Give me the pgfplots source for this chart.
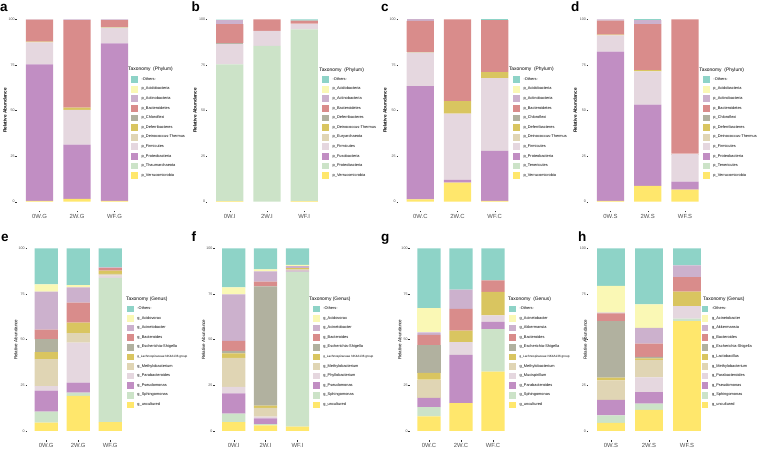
\documentclass[border=0pt]{standalone}
\usepackage{pgfplots}
\usepackage{pgfplotstable}
\pgfplotsset{compat=1.18}
\usepackage{fontspec}
\setmainfont{Liberation Sans}

% palette, one colour per legend position
\definecolor{col1}{HTML}{8ED3C7}
\definecolor{col2}{HTML}{FAF8B5}
\definecolor{col3}{HTML}{CCB1CD}
\definecolor{col4}{HTML}{D98C8B}
\definecolor{col5}{HTML}{B1B19F}
\definecolor{col6}{HTML}{D9C560}
\definecolor{col7}{HTML}{E0D5B4}
\definecolor{col8}{HTML}{E5D7DF}
\definecolor{col9}{HTML}{C18EC3}
\definecolor{col10}{HTML}{CCE3C8}
\definecolor{col11}{HTML}{FFE76C}
\definecolor{textgray}{HTML}{4D4D4D}
\definecolor{tickgray}{HTML}{333333}

% c1 = -Others- (top of stack) ... c11 = last legend entry (bottom)
\pgfplotstableread{
x c1 c2 c3 c4 c5 c6 c7 c8 c9 c10 c11
1 0 0 0.2 12.0 0 0.4 0 12.1 74.9 0 0.4
2 0 0 0.4 48.0 0 1.3 0 19.0 29.7 0 1.6
3 0 0 0.4 4.0 0 0 0.4 8.4 86.4 0 0.4
}\tabA
\pgfplotstableread{
x c1 c2 c3 c4 c5 c6 c7 c8 c9 c10 c11
1 0.2 0 2.4 10.5 0.4 0 0 11.2 0 75.0 0.3
2 0 0 0 6.4 0 0 0 8.2 0 85.4 0
3 0.7 0 0 1.6 0 0.4 0 2.8 0 94.2 0.3
}\tabB
\pgfplotstableread{
x c1 c2 c3 c4 c5 c6 c7 c8 c9 c10 c11
1 0 0 0.9 17.0 0 0 0.4 18.3 62.1 0 1.3
2 0 0 0 44.8 0 6.9 0 36.4 1.5 0 10.4
3 0.4 0 0 28.5 0 3.3 0 40.0 27.4 0 0.4
}\tabC
\pgfplotstableread{
x c1 c2 c3 c4 c5 c6 c7 c8 c9 c10 c11
1 0 0 0.7 7.7 0 0.4 0 8.9 81.9 0 0.4
2 0.4 0 2.2 25.2 0 0.7 0 18.3 44.6 0 8.6
3 0 0 0 73.6 0 0 0.3 15.1 4.4 0 6.6
}\tabD
\pgfplotstableread{
x c1 c2 c3 c4 c5 c6 c7 c8 c9 c10 c11
1 19.7 4.0 20.8 5.3 7.0 3.8 14.8 2.5 11.5 6.0 4.6
2 20.1 1.3 8.3 11.0 0 5.7 5.2 21.9 5.5 1.8 19.2
3 10.4 0 0.3 1.5 0 1.8 0.9 1.3 0 78.9 4.9
}\tabE
\pgfplotstableread{
x c1 c2 c3 c4 c5 c6 c7 c8 c9 c10 c11
1 21.4 3.8 25.5 5.5 1.3 2.5 15.9 3.5 11.1 4.6 4.9
2 11.5 1.1 5.6 2.6 65.3 1.3 4.8 0.9 3.1 0.7 3.1
3 9.1 0.7 1.0 0 0 0.6 0.8 0 0.6 84.8 2.4
}\tabF
\pgfplotstableread{
x c1 c2 c3 c4 c5 c6 c7 c8 c9 c10 c11
1 32.7 13.3 1.4 5.5 15.3 3.7 10.0 0 5.1 5.0 8.0
2 22.6 0 10.6 11.9 0 6.2 0 7.1 26.3 0 15.3
3 17.5 0 0 6.4 0 12.8 0 3.6 4.0 23.2 32.5
}\tabG
\pgfplotstableread{
x c1 c2 c3 c4 c5 c6 c7 c8 c9 c10 c11
1 20.6 14.6 0.4 4.2 31.0 1.5 10.7 0 8.4 4.2 4.4
2 30.7 12.9 8.6 7.3 0.7 0.9 9.5 8.2 6.2 3.5 11.5
3 9.3 0 6.4 8.0 0 7.9 0 6.9 0 1.3 60.2
}\tabH

\newcommand{\lachno}{{\fontsize{3.1}{3.5}\selectfont g\_Lachnospiraceae NK4A136 group}}

\pgfplotsset{
  panel/.style={
    scale only axis, ybar stacked, bar width=0.73,
    xmin=0.4, xmax=3.6, ymin=-5, ymax=105,
    xtick={1,2,3}, ytick={0,25,50,75,100},
    axis lines*=left, axis line style={draw=none},
    tick align=outside, major tick length=1.5pt,
    tick style={color=tickgray, line width=0.35pt},
    /pgf/number format/assume math mode=true,
    yticklabel style={font=\fontsize{3.6}{4}\selectfont, text=textgray, inner sep=0.6pt},
    xticklabel style={font=\fontsize{5.9}{6.5}\selectfont, text=textgray, inner sep=2pt},
    ylabel={Relative Abundance},
    legend style={draw=none, fill=none, inner sep=0pt, anchor=north west,
      font=\fontsize{3.9}{4.5}\selectfont, row sep=2.9pt, column sep=3.7pt,
      nodes={inner sep=0pt}, cells={anchor=west}},
    reverse legend,
    clip=false,
  },
  toprow/.style 2 args={at={(#1pt,238.2pt)}, anchor=south west, width=#2pt, height=200.6pt,
    ylabel style={font=\fontsize{4.7}{5}\selectfont\bfseries}},
  botrow/.style 2 args={at={(#1pt,8.9pt)}, anchor=south west, width=#2pt, height=200.9pt,
    ylabel style={font=\fontsize{4.5}{5}\selectfont}},
  ylabx/.style={ylabel style={at={(axis cs:#1,50)}, anchor=center}},
  sw/.style={fill=#1, draw=none,
    legend image code/.code={\fill[fill=#1] (0pt,-3.35pt) rectangle (6.7pt,3.35pt);}},
  nosw/.style={fill=#1, draw=none,
    legend image code/.code={\path (0pt,-3.35pt) rectangle (6.7pt,3.35pt);}},
}

\newcommand{\stackbars}[2][sw]{%
  \pgfplotsinvokeforeach{11,10,...,1}{\addplot[#1=col##1] table[x=x, y=c##1] {#2};}%
}
\tikzset{ttl/.style={anchor=west, inner sep=0pt, font=\fontsize{4.9}{5.5}\selectfont}}

\begin{document}
\begin{tikzpicture}
\useasboundingbox (0,0) rectangle (760pt,449pt);

% ---------- a ----------
\begin{axis}[panel, toprow={17}{120}, ylabx=0.08,
  xticklabels={0W.G,2W.G,WF.G},
  legend style={at={(axis cs:3.44,68.9)}},
  legend entries={p\_Verrucomicrobia,p\_Thaumarchaeota,p\_Proteobacteria,p\_Firmicutes,
    p\_Deinococcus-Thermus,p\_Deferribacteres,p\_Chloroflexi,p\_Bacteroidetes,
    p\_Actinobacteria,p\_Acidobacteria,-Others-}]
\stackbars{\tabA}
\node[ttl] at (axis cs:3.36,72.8) {Taxonomy\ \ (Phylum)};
\end{axis}

% ---------- b ----------
\begin{axis}[panel, toprow={207.35}{119.2}, ylabx=0.07,
  xticklabels={0W.I,2W.I,WF.I},
  legend style={at={(axis cs:3.48,68.9)}},
  legend entries={p\_Verrucomicrobia,p\_Proteobacteria,p\_Fusobacteria,p\_Firmicutes,
    p\_Euryarchaeota,p\_Deinococcus-Thermus,p\_Deferribacteres,p\_Bacteroidetes,
    p\_Actinobacteria,p\_Acidobacteria,-Others-}]
\stackbars{\tabB}
\node[ttl] at (axis cs:3.40,72.2) {Taxonomy\ \ (Phylum)};
\end{axis}

% ---------- c ----------
\begin{axis}[panel, toprow={398}{119}, ylabx=0.05,
  xticklabels={0W.C,2W.C,WF.C},
  legend style={at={(axis cs:3.49,68.9)}},
  legend entries={p\_Verrucomicrobia,p\_Tenericutes,p\_Proteobacteria,p\_Firmicutes,
    p\_Deinococcus-Thermus,p\_Deferribacteres,p\_Chloroflexi,p\_Bacteroidetes,
    p\_Actinobacteria,p\_Acidobacteria,-Others-}]
\stackbars{\tabC}
\node[ttl] at (axis cs:3.38,72.8) {Taxonomy\ \ (Phylum)};
\end{axis}

% ---------- d ----------
\begin{axis}[panel, toprow={588.15}{119.2}, ylabx=0.05,
  xticklabels={0W.S,2W.S,WF.S},
  legend style={at={(axis cs:3.48,68.9)}},
  legend entries={p\_Verrucomicrobia,p\_Tenericutes,p\_Proteobacteria,p\_Firmicutes,
    p\_Deinococcus-Thermus,p\_Deferribacteres,p\_Chloroflexi,p\_Bacteroidetes,
    p\_Actinobacteria,p\_Acidobacteria,-Others-}]
\stackbars{\tabD}
\node[ttl] at (axis cs:3.38,72.2) {Taxonomy\ \ (Phylum)};
\end{axis}

% ---------- e ----------
\begin{axis}[panel, botrow={27}{102.4}, ylabx=0.05,
  xticklabels={0W.G,2W.G,WF.G},
  legend style={at={(axis cs:3.52,68.8)}},
  legend entries={g\_uncultured,g\_Sphingomonas,g\_Pseudomonas,g\_Parabacteroides,
    g\_Methylobacterium,\lachno,g\_Escherichia-Shigella,g\_Bacteroides,
    g\_Acinetobacter,g\_Acidovorax,-Others-}]
\stackbars{\tabE}
\node[ttl] at (axis cs:3.49,71.9) {Taxonomy (Genus)};
\end{axis}

% ---------- f ----------
\begin{axis}[panel, botrow={214.6}{102}, ylabx=0.05,
  xticklabels={0W.I,2W.I,WF.I},
  legend style={at={(axis cs:3.48,68.8)}},
  legend entries={g\_uncultured,g\_Sphingomonas,g\_Pseudomonas,g\_Phyllobacterium,
    g\_Methylobacterium,\lachno,g\_Escherichia-Shigella,g\_Bacteroides,
    g\_Acinetobacter,g\_Acidovorax,-Others-}]
\stackbars{\tabF}
\node[ttl] at (axis cs:3.36,71.9) {Taxonomy (Genus)};
\end{axis}

% ---------- g ----------
\begin{axis}[panel, botrow={409.8}{102.4}, ylabx=0.09,
  xticklabels={0W.C,2W.C,WF.C},
  legend style={at={(axis cs:3.50,68.8)}},
  legend entries={g\_uncultured,g\_Sphingomonas,g\_Parabacteroides,g\_Mucispirillum,
    g\_Methylobacterium,\lachno,g\_Escherichia-Shigella,g\_Bacteroides,
    g\_Akkermansia,g\_Acinetobacter,-Others-}]
\stackbars{\tabG}
\node[ttl] at (axis cs:3.47,71.9) {Taxonomy\ \ (Genus)};
\end{axis}

% ---------- h ----------
\begin{axis}[panel, botrow={588.2}{121.6}, ylabx=0.32,
  xticklabels={0W.S,2W.S,WF.S},
  legend style={at={(axis cs:3.38,68.8)}},
  legend entries={g\_uncultured,g\_Sphingomonas,g\_Pseudomonas,g\_Parabacteroides,
    g\_Methylobacterium,g\_Lactobacillus,g\_Escherichia-Shigella,g\_Bacteroides,
    g\_Akkermansia,g\_Acinetobacter,-Others-}]
\stackbars[nosw]{\tabH}
\node[ttl] at (axis cs:3.42,71.9) {Taxonomy (Genus)};
\end{axis}

% panel letters
\foreach \lx/\ly/\lt in {0/437.3/a, 191.5/437.3/b, 381/437.3/c, 571/437.3/d,
  1/207.7/e, 191.5/207.7/f, 381/207.7/g, 578/207.7/h}
  \node[anchor=base west, inner sep=0pt, font=\fontsize{13.5}{14}\selectfont\bfseries] at (\lx pt,\ly pt) {\lt};
\end{tikzpicture}
\end{document}
